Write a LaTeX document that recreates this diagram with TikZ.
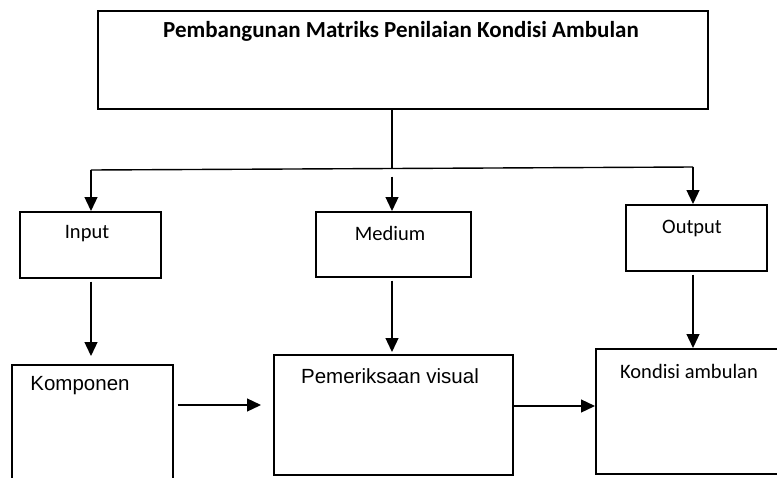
\documentclass[tikz,border=0pt]{standalone}
\usepackage{fontspec}
\newfontfamily\calib{Carlito}
\newfontfamily\arialf{Liberation Sans}
\usetikzlibrary{arrows.meta,calc}
\tikzset{
  box/.style={draw, line width=1.6pt, inner sep=0pt, anchor=north west},
  arr/.style={line width=1.3pt, -{Triangle[width=13pt,length=14pt]}},
  ln/.style={line width=1.4pt},
  ctxt/.style={font=\calib\fontsize{20.5}{24}\selectfont, inner sep=0pt},
  atxt/.style={font=\arialf\fontsize{20.5}{24}\selectfont, inner sep=0pt},
}
\begin{document}
\begin{tikzpicture}[x=1pt,y=-1pt]
\useasboundingbox (0,0) rectangle (777,477);
\begin{scope}
\clip (0,0) rectangle (777,477);
% boxes
\node[box, minimum width=610pt, minimum height=98pt] (top) at (97,10) {};
\node[box, minimum width=141pt, minimum height=66pt] (input) at (19,211) {};
\node[box, minimum width=155pt, minimum height=65pt] (medium) at (315,211) {};
\node[box, minimum width=141pt, minimum height=66pt] (output) at (625,204) {};
\node[box, minimum width=161pt, minimum height=150pt] (komp) at (11,364) {};
\node[box, minimum width=239pt, minimum height=120pt] (pem) at (273,354) {};
\node[box, minimum width=182pt, minimum height=125pt] (kond) at (595,348) {};
% texts
\node[ctxt, font=\calib\bfseries\fontsize{23}{27}\selectfont] (ttl) at (401,31) {Pembangunan Matriks Penilaian Kondisi Ambulan};
\node[ctxt] (tin) at (87,234) {Input};
\node[ctxt] (tmed) at (390,233) {Medium};
\node[ctxt] (tout) at (692,228) {Output};
\node[atxt] (tkomp) at (80,386) {Komponen};
\node[atxt] (tpem) at (390,376) {Pemeriksaan visual};
\node[ctxt] (tkond) at (689,371) {Kondisi ambulan};
% coordinates
\coordinate (stem) at (392,108);
\coordinate (busL) at (91,170);
\coordinate (busM) at (392,168.5);
\coordinate (busR) at (693,167);
\coordinate (h1) at (0,405);
\coordinate (h2) at (0,406);
% connectors
\draw[ln] (stem) -- (busM);
\draw[ln] (busL) -- (busR);
\draw[arr] (busL) -- (busL |- input.north);
\draw[arr, shorten <=8pt] (busM) -- (busM |- medium.north);
\draw[arr] (busR) -- (busR |- output.north);
\draw[arr, shorten <=3pt, shorten >=8pt] (busL |- input.south) -- (busL |- komp.north);
\draw[arr, shorten <=3pt, shorten >=2pt] (busM |- medium.south) -- (busM |- pem.north);
\draw[arr, shorten <=3pt] (busR |- output.south) -- (busR |- kond.north);
\draw[arr, shorten <=4pt, shorten >=12pt] (komp.east |- h1) -- (pem.west |- h1);
\draw[arr] (pem.east |- h2) -- (kond.west |- h2);
\end{scope}
\end{tikzpicture}
\end{document}
